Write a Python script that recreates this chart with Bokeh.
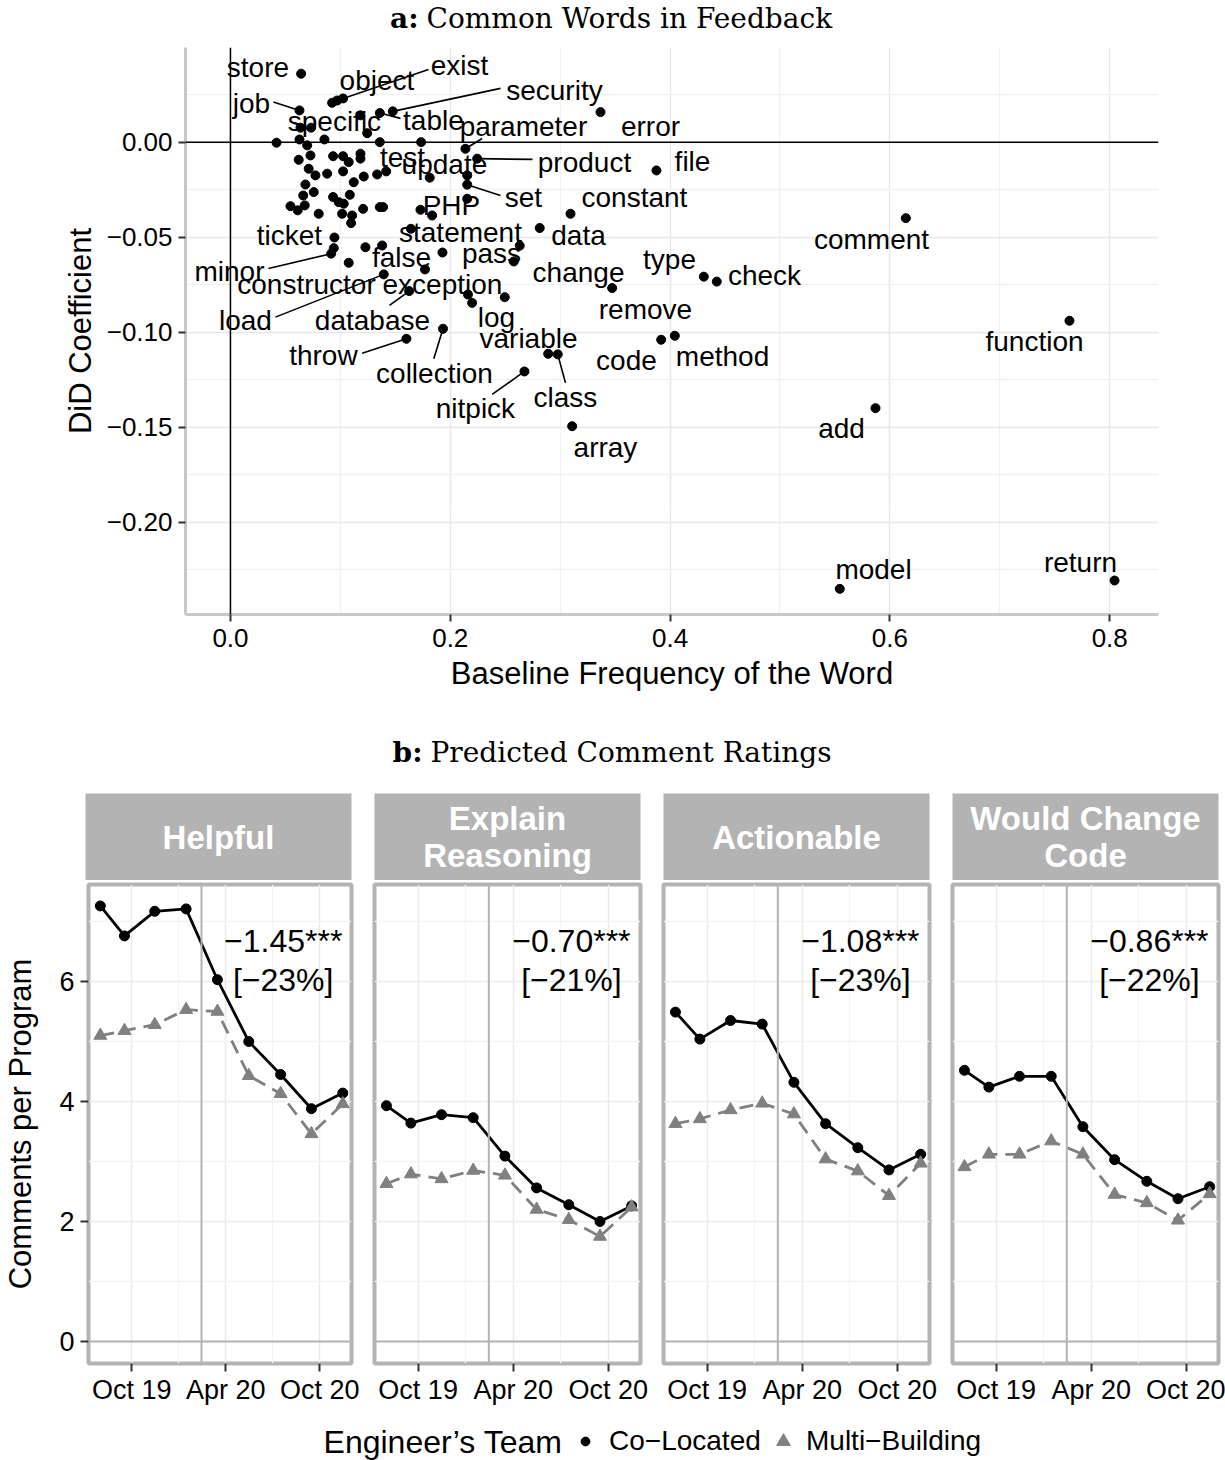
import pandas as pd
from bokeh.plotting import figure
from bokeh.layouts import column, row
from bokeh.models import Range1d, FixedTicker, Span, Legend, LegendItem, DatetimeTickFormatter
from bokeh.core.properties import value
from bokeh.embed import file_html
from bokeh.resources import INLINE

SANS = "Liberation Sans"
SERIF = "DejaVu Serif"
STRIP_GREY = "#b3b3b3"
MULTI_GREY = "#808080"

# ---------------- panel a: words in feedback ----------------
words = ["store", "object", "exist", "job", "specific", "table", "security", "parameter", "error",
         "test", "update", "product", "file", "set", "constant", "PHP", "statement", "data",
         "ticket", "pass", "false", "minor", "change", "type", "check", "constructor", "exception",
         "load", "database", "log", "remove", "variable", "throw", "code", "method", "collection",
         "nitpick", "class", "array", "comment", "function", "add", "model", "return"]
word_freq = [0.0643, 0.0925, 0.1025, 0.0628, 0.0734, 0.1359, 0.1477, 0.2138, 0.3367,
             0.1417, 0.1813, 0.2245, 0.3876, 0.2154, 0.3094, 0.1835, 0.1642, 0.2814,
             0.0946, 0.2632, 0.1929, 0.0916, 0.2578, 0.4307, 0.4425, 0.1076, 0.1770,
             0.1395, 0.1626, 0.2199, 0.3473, 0.2891, 0.1601, 0.3919, 0.4043, 0.1934,
             0.2675, 0.2978, 0.3109, 0.6145, 0.7634, 0.5869, 0.5544, 0.8044]
word_did = [0.0360, 0.0207, 0.0230, 0.0167, 0.0076, 0.0153, 0.0162, -0.0035, 0.0158,
            -0.0154, -0.0187, -0.0087, -0.0149, -0.0224, -0.0377, -0.0386, -0.0456, -0.0452,
            -0.0502, -0.0545, -0.0581, -0.0587, -0.0628, -0.0708, -0.0734, -0.0635, -0.0670,
            -0.0696, -0.0784, -0.0846, -0.0768, -0.1114, -0.1035, -0.1040, -0.1019, -0.0982,
            -0.1207, -0.1117, -0.1495, -0.0400, -0.0940, -0.1400, -0.2351, -0.2307]
# where each word's text sits (repelled away from its point)
label_x = [0.0250, 0.1333, 0.2084, 0.0191, 0.0946, 0.1847, 0.2948, 0.2666, 0.3822,
           0.1565, 0.1947, 0.3221, 0.4204, 0.2666, 0.3676, 0.2011, 0.2093, 0.3167,
           0.0537, 0.2375, 0.1556, -0.0009, 0.3167, 0.3995, 0.4859, 0.0692, 0.1929,
           0.0136, 0.1292, 0.2420, 0.3776, 0.2712, 0.0846, 0.3603, 0.4477, 0.1856,
           0.2229, 0.3048, 0.3412, 0.5833, 0.7316, 0.5560, 0.5851, 0.7734]
label_y = [0.0393, 0.0325, 0.0404, 0.0204, 0.0109, 0.0114, 0.0272, 0.0083, 0.0083,
           -0.0081, -0.0117, -0.0107, -0.0102, -0.0291, -0.0291, -0.0333, -0.0475, -0.0491,
           -0.0491, -0.0586, -0.0607, -0.0680, -0.0686, -0.0618, -0.0702, -0.0749, -0.0749,
           -0.0938, -0.0938, -0.0923, -0.0881, -0.1033, -0.1123, -0.1149, -0.1128, -0.1217,
           -0.1401, -0.1344, -0.1607, -0.0512, -0.1049, -0.1507, -0.2249, -0.2212]
# words whose text is joined to the point by a leader segment
leader_words = ["exist", "security", "job", "table", "parameter", "product", "set", "minor",
                "load", "database", "throw", "collection", "nitpick", "class"]
leader_x0 = [0.1802, 0.2457, 0.0391, 0.1547, 0.2290, 0.2748, 0.2457, 0.0346,
             0.0409, 0.1447, 0.1198, 0.1850, 0.2381, 0.3048]
leader_y0 = [0.0382, 0.0283, 0.0211, 0.0125, 0.0019, -0.0091, -0.0281, -0.0665,
             -0.0921, -0.0859, -0.1111, -0.1140, -0.1328, -0.1266]
# remaining (unlabelled) words
other_freq = [0.0971, 0.0637, 0.1183, 0.1244, 0.0419, 0.0628, 0.0855, 0.1359, 0.1735, 0.0698,
              0.0728, 0.0621, 0.0934, 0.1025, 0.1183, 0.1183, 0.1076, 0.0712, 0.0773, 0.0880,
              0.1025, 0.1122, 0.1213, 0.1335, 0.2154, 0.0682, 0.0758, 0.0662, 0.0934, 0.1086,
              0.0985, 0.1031, 0.0546, 0.0612, 0.0676, 0.0803, 0.1016, 0.1107, 0.1207, 0.1359,
              0.1389, 0.1098, 0.1729, 0.2154, 0.0940, 0.1228, 0.1380, 0.2161, 0.2496]
other_did = [0.0219, 0.0076, 0.0141, 0.0047, -0.0003, 0.0014, 0.0014, 0.0000, 0.0000, -0.0017,
             -0.0070, -0.0093, -0.0074, -0.0074, -0.0061, -0.0087, -0.0105, -0.0140, -0.0175, -0.0166,
             -0.0154, -0.0211, -0.0181, -0.0170, -0.0175, -0.0223, -0.0263, -0.0281, -0.0289, -0.0277,
             -0.0316, -0.0324, -0.0337, -0.0359, -0.0333, -0.0377, -0.0377, -0.0386, -0.0351, -0.0342,
             -0.0342, -0.0426, -0.0356, -0.0298, -0.0558, -0.0553, -0.0544, -0.0802, -0.0816]

freq_ticks = [0, 0.2, 0.4, 0.6, 0.8]
freq_minor = [0.1, 0.3, 0.5, 0.7]
freq_labels = ["0.0", "0.2", "0.4", "0.6", "0.8"]
did_ticks = [-0.2, -0.15, -0.1, -0.05, 0]
did_minor = [-0.225, -0.175, -0.125, -0.075, -0.025, 0.025]
did_labels = ["\u22120.20", "\u22120.15", "\u22120.10", "\u22120.05", "0.00"]

# ---------------- panel b: predicted comment ratings ----------------
periods = ["2019-08-01", "2019-09-17", "2019-11-15", "2020-01-15", "2020-03-16",
           "2020-05-16", "2020-07-17", "2020-09-15", "2020-11-15"]
facet_names = ["Helpful", "Explain\nReasoning", "Actionable", "Would Change\nCode"]
helpful_co = [7.26, 6.76, 7.17, 7.21, 6.03, 5.00, 4.45, 3.88, 4.14]
helpful_multi = [5.10, 5.18, 5.28, 5.53, 5.50, 4.43, 4.13, 3.46, 3.96]
reasoning_co = [3.93, 3.64, 3.78, 3.73, 3.09, 2.56, 2.28, 2.00, 2.26]
reasoning_multi = [2.63, 2.79, 2.71, 2.85, 2.77, 2.20, 2.03, 1.75, 2.24]
actionable_co = [5.49, 5.04, 5.35, 5.29, 4.32, 3.63, 3.23, 2.86, 3.12]
actionable_multi = [3.63, 3.71, 3.86, 3.97, 3.79, 3.04, 2.84, 2.43, 2.97]
change_co = [4.52, 4.24, 4.42, 4.42, 3.58, 3.03, 2.67, 2.38, 2.58]
change_multi = [2.91, 3.12, 3.12, 3.34, 3.12, 2.45, 2.31, 2.02, 2.46]
estimates = ["\u22121.45***", "\u22120.70***", "\u22121.08***", "\u22120.86***"]
pct_changes = ["[\u221223%]", "[\u221221%]", "[\u221223%]", "[\u221222%]"]
treatment_date = "2020-02-14"
date_ticks = ["2019-10-01", "2020-04-01", "2020-10-01"]
date_minor = ["2019-07-01", "2020-01-01", "2020-07-01"]
rating_ticks = [0, 2, 4, 6]
rating_minor = [1, 3, 5, 7]

# page-wide strips share the scatter's frame: 185 px in from the left, 67 px from the right
FRAME_L, FRAME_R = 185, 1158


def ms(d):
    return pd.Timestamp(d).value / 1e6


def blank(height):
    """A strip whose x units are page pixels, aligned with the scatter's frame."""
    p = figure(width=1225, height=height, x_range=Range1d(FRAME_L, FRAME_R), y_range=Range1d(0, height),
               x_axis_location=None, y_axis_location=None, min_border=0,
               min_border_left=FRAME_L, min_border_right=1225 - FRAME_R,
               output_backend="svg", toolbar_location=None)
    p.grid.visible = False
    p.outline_line_color = None
    return p


def style_axis(ax, label_size, title_size, tick_out=7, standoff=5, title_standoff=5):
    ax.major_tick_line_color = "#333333"
    ax.major_tick_line_width = 2
    ax.major_tick_out = tick_out
    ax.major_tick_in = 0
    ax.minor_tick_line_color = None
    ax.major_label_standoff = standoff
    ax.major_label_text_font = SANS
    ax.major_label_text_font_size = label_size
    ax.major_label_text_color = "black"
    ax.axis_label_text_font = SANS
    ax.axis_label_text_font_size = title_size
    ax.axis_label_text_font_style = "normal"
    ax.axis_label_text_color = "black"
    ax.axis_label_standoff = title_standoff


def heading(letter, text, height, y, split):
    t = blank(height)
    t.text(x=[split - 4], y=[y], text=[letter], text_font=value(SERIF), text_font_style="bold",
           text_font_size="28px", text_align="right", text_baseline="middle")
    t.text(x=[split + 4], y=[y], text=[text], text_font=value(SERIF),
           text_font_size="28px", text_align="left", text_baseline="middle")
    return t


# ---- heading a ----
title_a = heading("a:", "Common Words in Feedback", 40, 22, 422)

# ---- scatter of words ----
pa = figure(width=1225, height=680, x_range=Range1d(-0.0409, 0.8444), y_range=Range1d(-0.2486, 0.0498),
            min_border_left=FRAME_L, min_border_right=1225 - FRAME_R, min_border_top=7, min_border_bottom=106,
            output_backend="svg", toolbar_location=None)
pa.outline_line_color = None
pa.background_fill_color = "white"
pa.xaxis.ticker = FixedTicker(ticks=freq_ticks, minor_ticks=freq_minor)
pa.yaxis.ticker = FixedTicker(ticks=did_ticks, minor_ticks=did_minor)
pa.xaxis.major_label_overrides = dict(zip(freq_ticks, freq_labels))
pa.yaxis.major_label_overrides = dict(zip(did_ticks, did_labels))
pa.xaxis.axis_label = "Baseline Frequency of the Word"
pa.yaxis.axis_label = "DiD Coefficient"
style_axis(pa.xaxis[0], "26px", "31px", tick_out=7, standoff=7, title_standoff=6)
style_axis(pa.yaxis[0], "26px", "31px", tick_out=7, standoff=6, title_standoff=6)
for ax in (pa.xaxis[0], pa.yaxis[0]):
    ax.axis_line_color = "#c8c8c8"
    ax.axis_line_width = 3
for g in (pa.xgrid[0], pa.ygrid[0]):
    g.grid_line_color = "#e8e8e8"
    g.grid_line_width = 1.5
    g.minor_grid_line_color = "#f1f1f1"
    g.minor_grid_line_width = 1.3
pa.add_layout(Span(location=0, dimension="width", line_color="black", line_width=1.5))
pa.add_layout(Span(location=0, dimension="height", line_color="black", line_width=1.5))

idx = {w: i for i, w in enumerate(words)}
pa.segment(x0=leader_x0, y0=leader_y0,
           x1=[word_freq[idx[w]] for w in leader_words],
           y1=[word_did[idx[w]] for w in leader_words],
           line_color="black", line_width=1.6)
pa.scatter(x=other_freq, y=other_did, size=9, color="black")
pa.scatter(x=word_freq, y=word_did, size=9, color="black")
pa.text(x=label_x, y=label_y, text=words, text_font=value(SANS), text_font_size="28px",
        text_align="center", text_baseline="middle", text_color="black")

# ---- heading b ----
title_b = heading("b:", "Predicted Comment Ratings", 62, 30, 426)

# ---- faceted time series ----
series = [(helpful_co, helpful_multi), (reasoning_co, reasoning_multi),
          (actionable_co, actionable_multi), (change_co, change_multi)]
widths = [362, 289, 289, 285]
left_b = [85, 12, 12, 12]
right_b = [11, 11, 11, 7]
dates = [ms(d) for d in periods]
x_start, x_end = ms("2019-07-09"), ms("2020-12-02")
note_x = ms("2020-07-22")

strips, panels = [], []
for i, name in enumerate(facet_names):
    s = figure(width=widths[i], height=98, x_range=Range1d(0, 1), y_range=Range1d(0, 1),
               min_border_left=left_b[i], min_border_right=right_b[i], min_border_top=11,
               min_border_bottom=0, x_axis_location=None, y_axis_location=None,
               output_backend="svg", toolbar_location=None)
    s.grid.visible = False
    s.outline_line_color = None
    s.background_fill_color = STRIP_GREY
    s.text(x=[0.5], y=[0.5], text=[name], text_font=value(SANS), text_font_style="bold",
           text_font_size="33px", text_color="white", text_align="center",
           text_baseline="middle", text_line_height=1.02)
    strips.append(s)

    p = figure(width=widths[i], height=531, x_axis_type="datetime",
               x_range=Range1d(x_start, x_end), y_range=Range1d(-0.367, 7.617),
               min_border_left=left_b[i], min_border_right=right_b[i], min_border_top=4,
               min_border_bottom=48, y_axis_location="left" if i == 0 else None,
               output_backend="svg", toolbar_location=None)
    p.outline_line_color = STRIP_GREY
    p.outline_line_width = 4
    date_ticker = FixedTicker(ticks=[ms(d) for d in date_ticks], minor_ticks=[ms(d) for d in date_minor])
    rating_ticker = FixedTicker(ticks=rating_ticks, minor_ticks=rating_minor)
    p.xaxis.ticker = date_ticker
    p.xgrid.ticker = date_ticker
    p.ygrid.ticker = rating_ticker
    p.xaxis.formatter = DatetimeTickFormatter(days="%b %y", months="%b %y", years="%b %y")
    style_axis(p.xaxis[0], "27px", "31px", tick_out=8, standoff=3)
    p.xaxis.axis_line_color = None
    if i == 0:
        p.yaxis.ticker = rating_ticker
        p.yaxis.axis_label = "Comments per Program"
        style_axis(p.yaxis[0], "27px", "31px", tick_out=8, standoff=6, title_standoff=18)
        p.yaxis.axis_line_color = None
    for g in (p.xgrid[0], p.ygrid[0]):
        g.grid_line_color = "#ebebeb"
        g.grid_line_width = 1.5
        g.minor_grid_line_color = "#f4f4f4"
        g.minor_grid_line_width = 1.3
    p.add_layout(Span(location=0, dimension="width", line_color=STRIP_GREY, line_width=2))
    p.add_layout(Span(location=ms(treatment_date), dimension="height", line_color=STRIP_GREY, line_width=2))

    co, multi = series[i]
    p.line(x=dates, y=co, line_color="black", line_width=2.8)
    p.line(x=dates, y=multi, line_color=MULTI_GREY, line_width=2.8, line_dash="14 8")
    p.scatter(x=dates, y=co, marker="circle", size=10, color="black")
    p.scatter(x=dates, y=multi, marker="triangle", size=13, color=MULTI_GREY)
    p.text(x=[note_x], y=[6.68], text=[estimates[i]], text_font=value(SANS), text_font_size="32px",
           text_align="center", text_baseline="middle", text_color="black")
    p.text(x=[note_x], y=[6.02], text=[pct_changes[i]], text_font=value(SANS), text_font_size="32px",
           text_align="center", text_baseline="middle", text_color="black")
    panels.append(p)

# ---- legend ----
pl = blank(49)
pl.text(x=[562], y=[19], text=["Engineer\u2019s Team"], text_font=value(SANS), text_font_size="32px",
        text_align="right", text_baseline="middle")
# key proxies: one point each, parked outside the visible range
r_co = pl.scatter(x=[-1000], y=[-1000], marker="circle", size=10, color="black")
r_multi = pl.scatter(x=[-1000], y=[-1000], marker="triangle", size=13, color=MULTI_GREY)
key_style = dict(orientation="horizontal", border_line_color=None, background_fill_alpha=0,
                 padding=0, margin=0, label_text_font=SANS, label_text_font_size="28px",
                 label_text_color="black")
# each key gets its own glyph box so the triangle can be drawn larger than the dot
legend_co = Legend(items=[LegendItem(label=value("Co\u2212Located"), renderers=[r_co])],
                   location=(574 - FRAME_L, 3), glyph_width=22, glyph_height=22, label_standoff=13,
                   **key_style)
legend_multi = Legend(items=[LegendItem(label=value("Multi\u2212Building"), renderers=[r_multi])],
                      location=(766 - FRAME_L, 2), glyph_width=34, glyph_height=34, label_standoff=6,
                      **key_style)
pl.add_layout(legend_co, "center")
pl.add_layout(legend_multi, "center")

page = column(title_a, pa, title_b, row(*strips), row(*panels), pl)
open("out.html", "w").write(file_html(page, INLINE))
